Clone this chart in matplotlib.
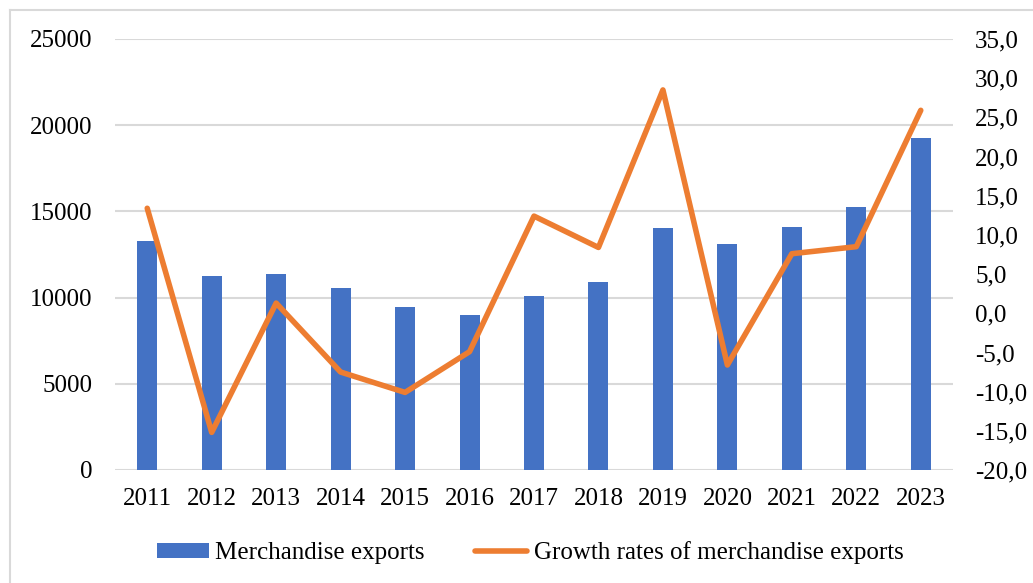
import matplotlib
matplotlib.use("Agg")
import matplotlib.pyplot as plt
from matplotlib.lines import Line2D
from matplotlib.patches import Patch
from matplotlib.ticker import FuncFormatter, FixedLocator
import numpy as np

years = ["2011", "2012", "2013", "2014", "2015", "2016", "2017",
         "2018", "2019", "2020", "2021", "2022", "2023"]
exports = [13265, 11235, 11369, 10539, 9455, 8973, 10075,
           10905, 14037, 13109, 14095, 15273, 19240]
growth = [13.4, -15.2, 1.3, -7.5, -10.1, -4.9, 12.4,
          8.4, 28.5, -6.6, 7.6, 8.5, 25.9]
left_ticks = [0, 5000, 10000, 15000, 20000, 25000]
right_ticks = [-20, -15, -10, -5, 0, 5, 10, 15, 20, 25, 30, 35]

BLUE = "#4472C4"
ORANGE = "#ED7D31"
GRID = "#D9D9D9"
FONT = "Liberation Serif"
FS = 18

W, H = 1033, 583
fig = plt.figure(figsize=(W / 100, H / 100), dpi=100)
ax = fig.add_axes([115 / W, 1 - 470 / H, (953 - 115) / W, (470 - 39) / H])
x = np.arange(len(years))

ax.bar(x, exports, width=0.31, color=BLUE, zorder=2)
ax.set_xlim(-0.5, len(years) - 0.5)
ax.set_ylim(0, 25000)
ax.yaxis.set_major_locator(FixedLocator(left_ticks))
ax.set_axisbelow(True)
ax.grid(axis="y", color=GRID, linewidth=1.5)
ax.set_xticks(x)
ax.set_xticklabels(years)
for s in ax.spines.values():
    s.set_visible(False)
ax.tick_params(axis="y", length=0, pad=16)
ax.tick_params(axis="x", length=0, pad=13)

ax2 = ax.twinx()
ax2.plot(x, growth, color=ORANGE, linewidth=4.0,
         solid_capstyle="round", solid_joinstyle="round", zorder=3)
ax2.set_ylim(-20, 35)
ax2.yaxis.set_major_locator(FixedLocator(right_ticks))
ax2.yaxis.set_major_formatter(
    FuncFormatter(lambda v, p: f"{v:.1f}".replace(".", ",")))
for s in ax2.spines.values():
    s.set_visible(False)
ax2.tick_params(axis="y", length=0, pad=16)

for a in (ax, ax2):
    for lbl in a.get_xticklabels() + a.get_yticklabels():
        lbl.set_fontfamily(FONT)
        lbl.set_fontsize(FS)
        lbl.set_color("#000000")

handles = [Patch(facecolor=BLUE, edgecolor="none"),
           Line2D([0], [0], color=ORANGE, linewidth=4.0,
                  solid_capstyle="round")]
labels = ["Merchandise exports", "Growth rates of merchandise exports"]
fig.legend(handles, labels, loc="center",
           bbox_to_anchor=(530 / W, 1 - 553 / H), ncol=2, frameon=False,
           prop={"family": FONT, "size": FS}, handlelength=2.1,
           handleheight=0.52, handletextpad=0.25, columnspacing=2.0)

# chart-area frame (top and left edges)
fig.add_artist(Line2D([9.5 / W, 1.0], [1 - 10 / H, 1 - 10 / H],
                      transform=fig.transFigure, color=GRID, linewidth=1.5))
fig.add_artist(Line2D([9.5 / W, 9.5 / W], [0.0, 1 - 10 / H],
                      transform=fig.transFigure, color=GRID, linewidth=1.5))

fig.savefig("out.png", dpi=100)
